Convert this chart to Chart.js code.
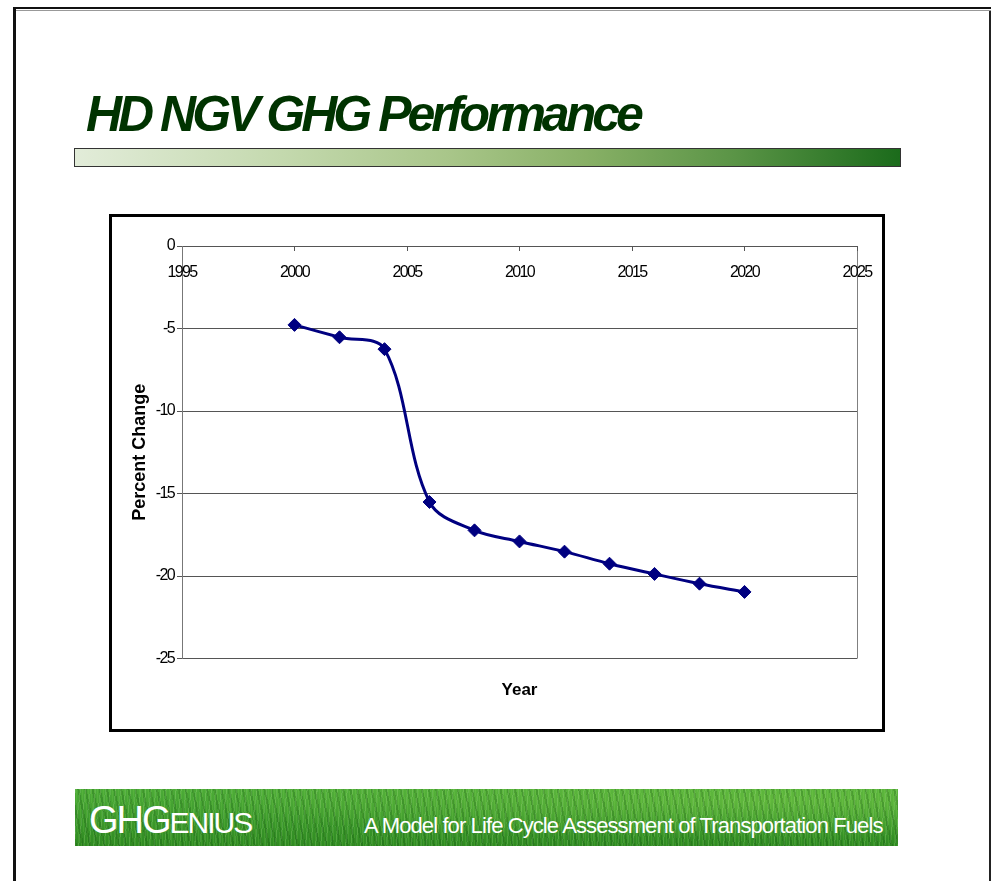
<!DOCTYPE html>
<html>
<head>
<meta charset="utf-8">
<title>HD NGV GHG Performance</title>
<script src="https://cdn.jsdelivr.net/npm/chart.js@4.4.0/dist/chart.umd.min.js"></script>
<style>
  html, body { margin: 0; padding: 0; background: #fff; overflow: hidden; }
  body { width: 991px; height: 881px; position: relative; font-family: 'Liberation Sans', Arial, sans-serif; }
  .frame-top { position: absolute; left: 13px; top: 7px; width: 990px; height: 2px; background: #111; }
  .frame-top2 { position: absolute; left: 16px; top: 10px; width: 990px; height: 1px; background: #999; }
  .frame-left { position: absolute; left: 13px; top: 7px; width: 3px; height: 900px; background: #111; }
  .frame-right { position: absolute; left: 989px; top: 11px; width: 2px; height: 900px; background: #222; }
  .slide-title {
    position: absolute; left: 86px; top: 89px; margin: 0;
    font: italic bold 50px/50px 'Liberation Sans', Arial, sans-serif;
    letter-spacing: -4px; color: #003300; white-space: nowrap;
  }
  .title-bar {
    position: absolute; left: 74px; top: 148px; width: 825px; height: 17px;
    border: 1px solid #333;
    background: linear-gradient(to right, #e2ecd9 0%, #c4d9ae 25%, #a9c68a 45%, #88b066 62%, #5a9446 80%, #1b6b1b 100%);
  }
  .chart-box {
    position: absolute; left: 109px; top: 214px; width: 770px; height: 512px;
    border: 3px solid #000; background: #fff;
  }
  .chart-box canvas { display: block; }
  .banner {
    position: absolute; left: 75px; top: 789px; width: 823px; height: 57px;
    background-color: #44a332;
    background-image:
      repeating-linear-gradient(97deg, rgba(255,255,255,0.10) 0 1px, rgba(0,0,0,0) 1px 5px),
      repeating-linear-gradient(78deg, rgba(0,50,0,0.18) 0 2px, rgba(0,0,0,0) 2px 7px),
      repeating-linear-gradient(88deg, rgba(150,230,90,0.14) 0 1px, rgba(0,0,0,0) 1px 3px),
      radial-gradient(ellipse at 85% 20%, rgba(120,200,70,0.5), rgba(0,0,0,0) 60%),
      linear-gradient(to bottom, #4cab38, #2f8a22);
    color: #fff; white-space: nowrap;
  }
  .logo { position: absolute; left: 14px; top: 12px; font-family: 'Liberation Sans', Arial, sans-serif; letter-spacing: -2px; line-height: 38px; }
  .logo .big { font-size: 38px; }
  .logo .small { font-size: 30px; }
  .tagline {
    position: absolute; left: 289px; top: 25px;
    font: 22px/24px 'Liberation Sans', Arial, sans-serif; letter-spacing: -0.9px;
  }
</style>
</head>
<body>
<div class="frame-top"></div>
<div class="frame-top2"></div>
<div class="frame-left"></div>
<div class="frame-right"></div>

<h1 class="slide-title">HD NGV GHG Performance</h1>
<div class="title-bar"></div>

<div class="chart-box">
  <canvas id="ghgChart" width="770" height="512" style="width:770px;height:512px"></canvas>
</div>

<div class="banner">
  <div class="logo"><span class="big">GHG</span><span class="small">ENIUS</span></div>
  <div class="tagline">A Model for Life Cycle Assessment of Transportation Fuels</div>
</div>

<script>
// ——— DATA ———
const years = [2000, 2002, 2004, 2006, 2008, 2010, 2012, 2014, 2016, 2018, 2020];
const pctChange = [-4.78, -5.53, -6.25, -15.51, -17.23, -17.9, -18.52, -19.25, -19.87, -20.46, -20.96];
const xRange = [1995, 2025];
const yRange = [-25, 0];

const regular = "'Liberation Sans', Arial, sans-serif";

// tick labels are drawn after the datasets (ticks.z = 1), squeeze them like the original
const tightTicks = {
    id: 'tightTicks',
    afterDatasetsDraw(chart) { chart.ctx.letterSpacing = '-1.6px'; },
    afterDraw(chart) { chart.ctx.letterSpacing = '0px'; }
};

// ——— CHART ———
const ctx = document.getElementById('ghgChart').getContext('2d');

new Chart(ctx, {
    type: 'line',
    data: {
        datasets: [{
            data: years.map((yr, i) => ({ x: yr, y: pctChange[i] })),
            borderColor: '#000080',
            borderWidth: 3,
            tension: 0.35,
            fill: false,
            pointStyle: 'rectRot',
            pointRadius: 6.5,
            pointBackgroundColor: '#000080',
            pointBorderColor: '#000080',
            pointBorderWidth: 1
        }]
    },
    options: {
        responsive: false,
        animation: false,
        devicePixelRatio: 1,
        layout: { padding: { top: 29, right: 25, left: 0, bottom: 0 } },
        plugins: {
            legend: { display: false },
            tooltip: { enabled: false },
            title: {
                display: true,
                text: 'Year',
                position: 'bottom',
                fullSize: false,
                color: '#000',
                font: { family: regular, size: 17, weight: 'bold' },
                padding: { top: 22, bottom: 28 }
            }
        },
        scales: {
            x: {
                type: 'linear',
                position: { y: 0 },
                min: xRange[0],
                max: xRange[1],
                afterFit: scale => { scale.paddingLeft = 0; scale.paddingRight = 0; },
                ticks: {
                    stepSize: 5,
                    padding: 13,
                    z: 1,
                    color: '#000',
                    font: { family: regular, size: 16 },
                    callback: v => String(v)
                },
                grid: {
                    drawOnChartArea: true,
                    color: c => (c.tick && c.tick.value === xRange[1]) ? '#808080' : 'rgba(0,0,0,0)',
                    tickColor: '#555',
                    tickLength: 4
                },
                border: { color: '#555', width: 1 }
            },
            y: {
                min: yRange[0],
                max: yRange[1],
                afterFit: scale => { scale.width = 70; },
                ticks: {
                    stepSize: 5,
                    padding: 3,
                    z: 1,
                    color: '#000',
                    font: { family: regular, size: 16 }
                },
                grid: {
                    color: '#555',
                    tickColor: '#555',
                    tickLength: 5
                },
                border: { color: '#777', width: 1 },
                title: {
                    display: true,
                    text: 'Percent Change',
                    color: '#000',
                    font: { family: regular, size: 18, weight: 'bold' },
                    padding: { top: 17, bottom: 0 }
                }
            }
        }
    },
    plugins: [tightTicks]
});
</script>
</body>
</html>
